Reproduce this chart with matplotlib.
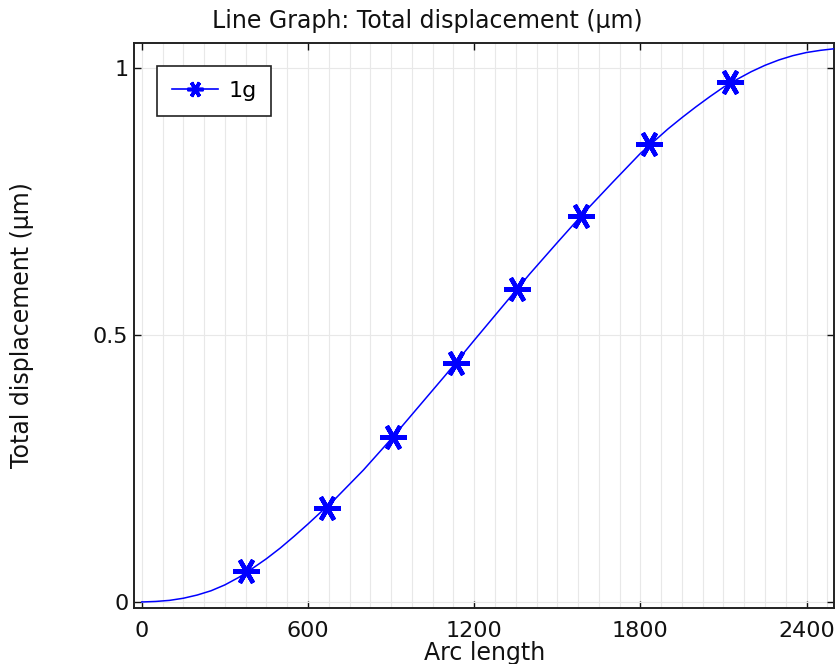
import matplotlib
matplotlib.use("Agg")
import matplotlib.pyplot as plt
from matplotlib.ticker import MultipleLocator

# Curve values
arc_length = [0, 50, 100, 150, 200, 250, 300, 350, 400, 450, 500, 550, 600,
              700, 800, 900, 1000, 1100, 1200, 1300, 1400, 1500, 1600, 1700,
              1800, 1900, 1950, 2000, 2050, 2100, 2150, 2200, 2250, 2300,
              2350, 2400, 2450, 2500]
displacement = [0.000, 0.001, 0.003, 0.007, 0.013, 0.021, 0.032, 0.046, 0.063,
                0.081, 0.101, 0.123, 0.146, 0.194, 0.247, 0.305, 0.366, 0.427,
                0.490, 0.552, 0.614, 0.673, 0.731, 0.786, 0.840, 0.886, 0.907,
                0.927, 0.946, 0.964, 0.979, 0.993, 1.005, 1.015, 1.023, 1.029,
                1.033, 1.036]

# Marker positions
marker_x = [375, 669, 907, 1135, 1355, 1586, 1832, 2124]
marker_y = [0.058, 0.176, 0.309, 0.448, 0.586, 0.723, 0.858, 0.974]

x_ticks = [0, 600, 1200, 1800, 2400]
y_ticks = [0, 0.5, 1]
y_tick_labels = ["0", "0.5", "1"]
series_label = "1g"

W, H = 839, 664
fig = plt.figure(figsize=(W / 100, H / 100), dpi=100)
ax = fig.add_axes([134 / W, 1 - 607.7 / H, (834.3 - 134) / W, (607.7 - 43.4) / H])

blue = (0, 0, 1)
ax.plot(arc_length, displacement, color=blue, lw=1.1, zorder=3)
ax.plot(marker_x, marker_y, linestyle="none", marker=(6, 2, 90),
        markersize=19, markeredgewidth=3.2, markeredgecolor=blue,
        markerfacecolor=blue, zorder=4)

# legend proxy
ax.plot([], [], color=blue, lw=1.2, marker=(6, 2, 90), markersize=11.5,
        markeredgewidth=2.6, markeredgecolor=blue, label=series_label)

ax.set_xlim(-28, 2500)
ax.set_ylim(-0.0107, 1.046)
ax.set_xticks(x_ticks)
ax.set_yticks(y_ticks)
ax.set_yticklabels(y_tick_labels)
ax.xaxis.set_minor_locator(MultipleLocator(75))

ax.grid(True, which="major", axis="both", color="#e8e8e8", lw=0.8, zorder=0)
ax.grid(True, which="minor", axis="x", color="#e8e8e8", lw=0.8, zorder=0)
ax.set_axisbelow(True)

ax.tick_params(which="major", direction="in", length=5, width=1.0,
               top=True, right=True, labelsize=16, pad=4, colors="#111111")
ax.tick_params(axis="x", which="major", pad=9.5)
ax.tick_params(which="minor", length=0)
for s in ax.spines.values():
    s.set_linewidth(1.4)
    s.set_color("#222222")

ax.set_xlabel("Arc length", fontsize=17, labelpad=0, color="#111111")
ax.set_ylabel("Total displacement (μm)", fontsize=17, color="#111111")
ax.yaxis.set_label_coords(-0.143, 0.5)

fig.text(427 / W, 1 - 21 / H, "Line Graph: Total displacement (μm)",
         ha="center", va="center", fontsize=17, color="#111111")

leg_lines = [l for l in ax.get_lines() if l.get_label() == series_label]
leg = ax.legend(handles=leg_lines, loc="upper left", fontsize=16,
                bbox_to_anchor=((157 - 134) / (834.3 - 134), 1 - (66 - 43.4) / (607.7 - 43.4)),
                borderaxespad=0, fancybox=False, framealpha=1, edgecolor="#222222",
                handlelength=2.07, borderpad=0.68, handletextpad=0.45)
leg.get_frame().set_linewidth(1.2)

fig.savefig("out.png", dpi=100)
